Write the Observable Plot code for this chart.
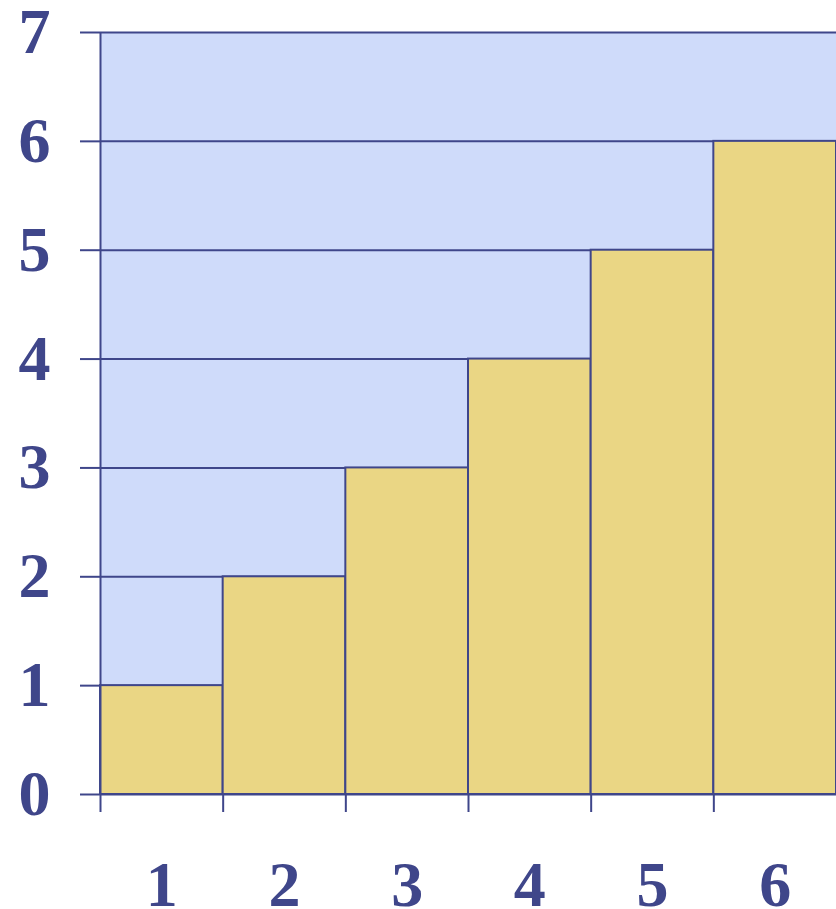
<!DOCTYPE html>
<html>
<head>
<meta charset="utf-8">
<script src="https://cdn.jsdelivr.net/npm/d3@7"></script>
<script src="https://cdn.jsdelivr.net/npm/@observablehq/plot@0.6"></script>
<style>
  html, body { margin: 0; padding: 0; background: #ffffff; }
</style>
</head>
<body>
<div id="chart"></div>
<script>
const categories = ["1", "2", "3", "4", "5", "6"];
const values = [1, 2, 3, 4, 5, 6];
const yTicks = [0, 1, 2, 3, 4, 5, 6, 7];
const xEdges = [0, 1, 2, 3, 4, 5];

const blue = "#3f468a";
const bg = "#cfdbfa";
const yellow = "#ead684";

const bars = values.map((v, i) => ({x1: i, x2: i + 1, y: v}));
const labels = categories.map((c, i) => ({pos: i + 0.5, label: c}));

const chart = Plot.plot({
  width: 836,
  height: 909,
  marginLeft: 100,
  marginRight: 0,
  marginTop: 32,
  marginBottom: 115,
  style: {fontFamily: "'Liberation Serif', 'Times New Roman', serif", fontWeight: "bold", color: blue, background: "#ffffff"},
  x: {domain: [0, 6]},
  y: {domain: [0, 7]},
  marks: [
    Plot.rect([0], {x1: 0, x2: 6, y1: 0, y2: 7, fill: bg}),
    Plot.ruleY(yTicks, {stroke: blue, strokeWidth: 2}),
    Plot.rect(bars, {x1: "x1", x2: "x2", y1: 0, y2: "y", fill: yellow, stroke: blue, strokeWidth: 2}),
    Plot.ruleX([0], {y1: 0, y2: 7, stroke: blue, strokeWidth: 2}),
    Plot.axisY({ticks: yTicks, tickSize: 20, tickPadding: 30, fontSize: 64, color: blue, strokeWidth: 2, strokeOpacity: 1, tickFormat: d3.format("d"), label: null}),
    Plot.axisX({ticks: xEdges, tickSize: 18, tickFormat: () => "", color: blue, strokeWidth: 2, strokeOpacity: 1, label: null}),
    Plot.axisX(labels.map(d => d.pos), {tickSize: 0, tickPadding: 66, fontSize: 64, color: blue, tickFormat: (d) => labels.find(l => l.pos === d).label, label: null})
  ]
});
document.getElementById("chart").appendChild(chart);
</script>
</body>
</html>
